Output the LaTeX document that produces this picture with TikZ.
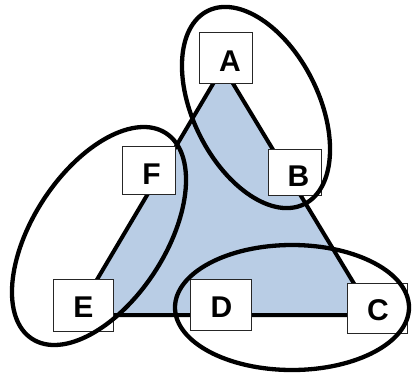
\documentclass[tikz,border=0pt]{standalone}
\usepackage{fontspec}
\setmainfont{Liberation Sans}
\definecolor{triblue}{HTML}{B9CDE5}
\begin{document}
\begin{tikzpicture}[x=1pt,y=-1pt,
  tri/.style={draw=black, line width=4pt, fill=triblue, line join=round},
  ell/.style={draw=black, line width=4.3pt},
  box/.style={draw=black!85, line width=0.9pt, fill=white, inner sep=0pt},
  lbl/.style={inner sep=0pt, font=\fontsize{30}{30}\selectfont\bfseries}]
\useasboundingbox (0,0) rectangle (413,376);
% triangle corners
\coordinate (tA) at (223,67);
\coordinate (tE) at (76,315);
\coordinate (tC) at (373,315);
\draw[tri] (tA) -- (tC) -- (tE) -- cycle;
% boxes
\node[box, minimum width=53pt, minimum height=51pt] (A) at (225.5,57.5) {};
\node[box, minimum width=53pt, minimum height=46pt] (B) at (294.5,172) {};
\node[box, minimum width=53pt, minimum height=48pt] (F) at (148.5,170) {};
\node[box, minimum width=60pt, minimum height=52pt] (E) at (83,305) {};
\node[box, minimum width=61pt, minimum height=51pt] (D) at (220.5,304.5) {};
\node[box, minimum width=60pt, minimum height=50pt] (C) at (377,308) {};
% labels
\node[lbl] (lA) at (230,61) {A};
\node[lbl] (lB) at (298.5,176) {B};
\node[lbl] (lF) at (151.5,174) {F};
\node[lbl] (lE) at (83.5,307.5) {E};
\node[lbl] (lD) at (221.5,307.5) {D};
\node[lbl] (lC) at (378,310) {C};
% ellipses
\draw[ell, shift={(256,107.5)}, rotate=-63.4] (0,0) ellipse [x radius=108pt, y radius=62.7pt];
\draw[ell, shift={(99,236)}, rotate=56.9] (0,0) ellipse [x radius=122.7pt, y radius=66.3pt];
\draw[ell, shift={(292,307.5)}] (0,0) ellipse [x radius=117pt, y radius=62.5pt];
\end{tikzpicture}
\end{document}
